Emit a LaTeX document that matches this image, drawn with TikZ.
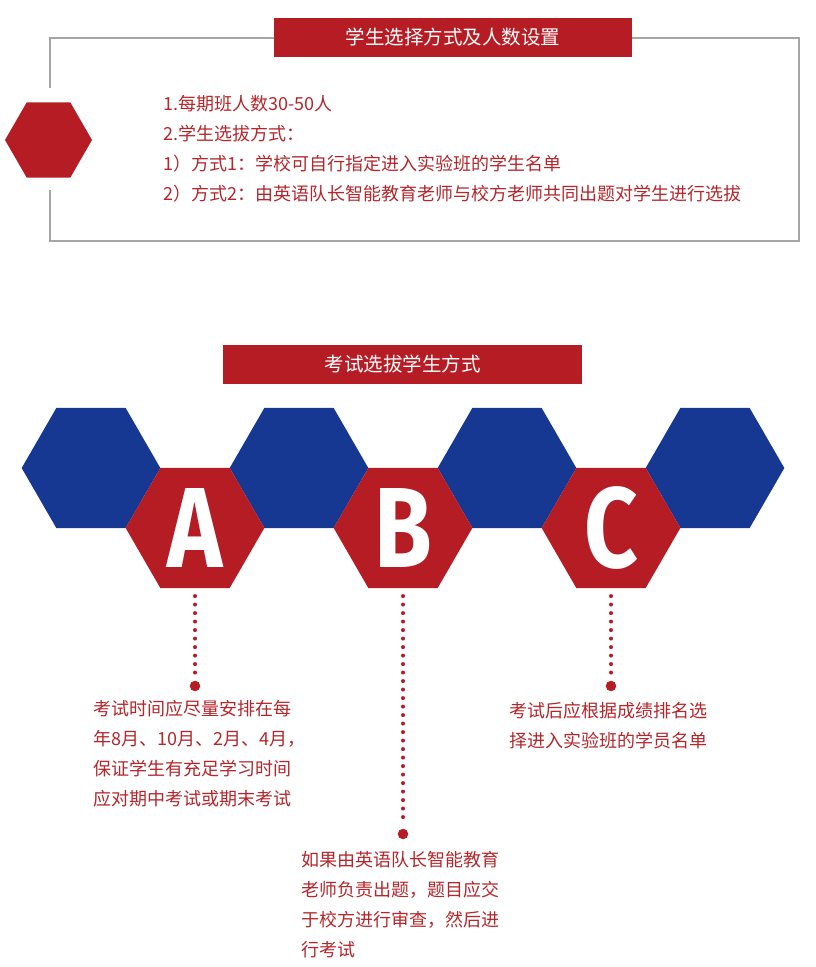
\documentclass[tikz,border=0pt]{standalone}
\usepackage{fontspec}
\setmainfont{Noto Sans CJK SC}
\newfontfamily\abcfont{Fira Sans}
\usepackage{tikz}
\usetikzlibrary{shapes.geometric}
\definecolor{ired}{HTML}{B51C24}
\definecolor{iblue}{HTML}{163893}
\definecolor{itext}{HTML}{B3262B}
\definecolor{igray}{HTML}{A6A6A6}

\begin{document}
\begin{tikzpicture}[x=1pt, y=-1pt,
        hex/.style={regular polygon, regular polygon sides=6, minimum size=138.67pt, inner sep=0pt, outer sep=0pt},
        bluehex/.style={hex, fill=iblue},
        redhex/.style={hex, fill=ired},
        titlebar/.style={fill=ired, text=white, minimum width=358pt, minimum height=39pt, inner sep=0pt, font=\fontsize{19.5}{20}\selectfont},
        bigdot/.style={circle, fill=ired, minimum size=10.5pt, inner sep=0pt},
        dotline/.style={draw=ired, line width=4pt, line cap=round, dash pattern=on 0pt off 8.5pt, shorten >=3pt},
        note/.style={text=itext, align=left, anchor=north west, inner sep=0pt, font=\fontsize{18}{30}\selectfont},
        letter/.style={text=white, inner sep=0pt, font=\abcfont\fontsize{114}{114}\selectfont\bfseries}]
    \useasboundingbox (0,0) rectangle (816,967);

    % top box
    \draw[igray, line width=2pt] (50,88) -- (50,38) -- (799,38) -- (799,241) -- (50,241) -- (50,190);
    \node[titlebar] (t1) at (453,37.5) {学生选择方式及人数设置};
    \node[hex, fill=ired, minimum size=87pt] (h0) at (48.5,140) {};
    \node[note] (n0) at (163,95) {1.每期班人数30-50人\\2.学生选拔方式：\\1）方式1：学校可自行指定进入实验班的学生名单\\2）方式2：由英语队长智能教育老师与校方老师共同出题对学生进行选拔};

    % honeycomb
    \node[titlebar, minimum width=359pt] (t2) at (402.5,364.5) {考试选拔学生方式};

    \foreach \x [count=\i] in {91,299,507,715}
        \node[bluehex] (b\i) at (\x,468) {};
    \foreach \x/\l in {195/a,403/b,611/c}
        \node[redhex] (h\l) at (\x,528) {};

    \node[letter] (la) at (ha) {\scalebox{0.82}[1]{A}};
    \node[letter] (lb) at (hb) {\scalebox{0.82}[1]{B}};
    \node[letter] (lc) at (hc) {\scalebox{0.82}[1]{C}};

    \node[bigdot] (da) at (195,686) {};
    \node[bigdot] (db) at (403,834) {};
    \node[bigdot] (dc) at (611,686) {};

    \draw[dotline] ([yshift=-8pt]ha.south) -- (da.north);
    \draw[dotline] ([yshift=-8pt]hb.south) -- (db.north);
    \draw[dotline] ([yshift=-8pt]hc.south) -- (dc.north);

    \node[note] (na) at (93,700) {考试时间应尽量安排在每\\年8月、10月、2月、4月，\\保证学生有充足学习时间\\应对期中考试或期末考试};
    \node[note] (nb) at (301,851) {如果由英语队长智能教育\\老师负责出题，题目应交\\于校方进行审查，然后进\\行考试};
    \node[note] (nc) at (509,702) {考试后应根据成绩排名选\\择进入实验班的学员名单};
\end{tikzpicture}
\end{document}
